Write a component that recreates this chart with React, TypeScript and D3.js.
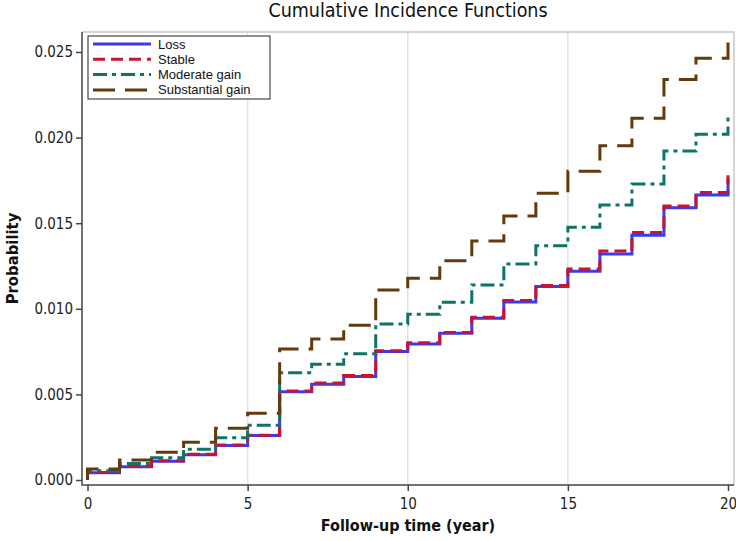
import * as d3 from 'd3';
import { useEffect, useRef } from 'react';

const YEARS = d3.range(0, 21);

const LOSS = [0.00042, 0.00077, 0.0011, 0.00148, 0.00202, 0.0026, 0.00515, 0.0056, 0.00605, 0.0075, 0.00795,
  0.00857, 0.00945, 0.0104, 0.0113, 0.0122, 0.0132, 0.0143, 0.0159, 0.01665, 0.0176];
const STABLE = [0.00044, 0.00079, 0.00112, 0.0015, 0.00205, 0.00262, 0.0052, 0.00567, 0.0061, 0.00755, 0.00802,
  0.00862, 0.0095, 0.01048, 0.01136, 0.01232, 0.01338, 0.01445, 0.016, 0.0168, 0.0178];
const MODERATE = [0.00054, 0.00097, 0.0013, 0.00179, 0.00247, 0.0032, 0.00627, 0.00676, 0.00738, 0.00911, 0.00968,
  0.01038, 0.01139, 0.01262, 0.01369, 0.01476, 0.01606, 0.01729, 0.01922, 0.02019, 0.02125];
const SUBSTANTIAL = [0.00064, 0.00117, 0.00162, 0.0022, 0.00302, 0.0039, 0.00765, 0.00824, 0.00904, 0.0111, 0.01178,
  0.0128, 0.01396, 0.01542, 0.01675, 0.01804, 0.01953, 0.02113, 0.0234, 0.02463, 0.0261];

const X_TICKS = [0, 5, 10, 15, 20];
const Y_TICKS = [0, 0.005, 0.01, 0.015, 0.02, 0.025];

const SERIES = [
  { name: 'Loss', values: LOSS, color: '#3a3af2', dash: null },
  { name: 'Stable', values: STABLE, color: '#c8142e', dash: '12 6' },
  { name: 'Moderate gain', values: MODERATE, color: '#0f7468', dash: '14 5 4 5' },
  { name: 'Substantial gain', values: SUBSTANTIAL, color: '#623b0d', dash: '22 10' }
];

const FONT = "'Liberation Sans', Arial, sans-serif";
const NARROW = "'DejaVu Sans Condensed', 'DejaVu Sans', sans-serif";
const WIDTH = 736;
const HEIGHT = 541;

function App() {
  const svgRef = useRef<SVGSVGElement>(null);

  useEffect(() => {
    if (!svgRef.current) { return; }
    const svg = d3.select(svgRef.current);
    svg.selectAll('*').remove();

    const frame = { left: 82, right: 734, top: 32, bottom: 485 };

    const x = d3.scaleLinear().domain([0, 20]).range([87.5, 728]);
    const y = d3.scaleLinear().domain([0, 0.025]).range([480, 52]);

    svg.append('rect')
      .attr('width', WIDTH)
      .attr('height', HEIGHT)
      .attr('fill', '#fff');

    // vertical grid
    svg.append('g')
      .selectAll('line')
      .data(X_TICKS.slice(1, -1))
      .join('line')
      .attr('x1', d => x(d))
      .attr('x2', d => x(d))
      .attr('y1', frame.top)
      .attr('y2', frame.bottom)
      .attr('stroke', '#e2e2e2')
      .attr('stroke-width', 1.5);

    // frame top/right light
    svg.append('path')
      .attr('d', `M${frame.left},${frame.top}H${frame.right}V${frame.bottom}`)
      .attr('fill', 'none')
      .attr('stroke', '#c8c8c8')
      .attr('stroke-width', 1.5);

    // step curves
    const line = d3.line<[number, number]>()
      .x(d => x(d[0]))
      .y(d => y(d[1]))
      .curve(d3.curveStepAfter);

    SERIES.forEach(s => {
      const pts: [number, number][] = [[0, 0], ...YEARS.map((t, i) => [t, s.values[i]] as [number, number])];
      svg.append('path')
        .attr('d', line(pts) || '')
        .attr('fill', 'none')
        .attr('stroke', s.color)
        .attr('stroke-width', 3)
        .attr('stroke-dasharray', s.dash)
        .attr('stroke-linejoin', 'miter');
    });

    // axes
    const xAxis = svg.append('g')
      .attr('transform', `translate(0,${frame.bottom})`)
      .call(d3.axisBottom(x).tickValues(X_TICKS).tickSize(6).tickSizeOuter(0));
    xAxis.select('.domain').remove();
    xAxis.selectAll('line').attr('stroke', '#444').attr('stroke-width', 1.5);
    xAxis.selectAll('text')
      .attr('font-family', NARROW)
      .attr('font-size', 15)
      .attr('fill', '#222')
      .attr('dy', '1em');

    const yAxis = svg.append('g')
      .attr('transform', `translate(${frame.left},0)`)
      .call(d3.axisLeft(y).tickValues(Y_TICKS).tickFormat(d3.format('.3f')).tickSize(6).tickSizeOuter(0));
    yAxis.select('.domain').remove();
    yAxis.selectAll('line').attr('stroke', '#444').attr('stroke-width', 1.5);
    yAxis.selectAll('text')
      .attr('font-family', NARROW)
      .attr('font-size', 15)
      .attr('fill', '#222');

    svg.append('path')
      .attr('d', `M${frame.left},${frame.top}V${frame.bottom}H${frame.right}`)
      .attr('fill', 'none')
      .attr('stroke', '#444')
      .attr('stroke-width', 1.5);

    // legend
    const legend = svg.append('g');
    legend.append('rect')
      .attr('x', 88)
      .attr('y', 36)
      .attr('width', 182)
      .attr('height', 63)
      .attr('fill', '#fff')
      .attr('stroke', '#222')
      .attr('stroke-width', 1);
    SERIES.forEach((s, i) => {
      const ly = 44 + i * 15.3;
      legend.append('line')
        .attr('x1', 93)
        .attr('x2', 151)
        .attr('y1', ly)
        .attr('y2', ly)
        .attr('stroke', s.color)
        .attr('stroke-width', 3)
        .attr('stroke-dasharray', s.dash);
      legend.append('text')
        .attr('x', 158)
        .attr('y', ly + 4.5)
        .attr('font-family', FONT)
        .attr('font-size', 13)
        .attr('fill', '#111')
        .text(s.name);
    });

    // titles
    svg.append('text')
      .attr('x', (frame.left + frame.right) / 2)
      .attr('y', 17)
      .attr('text-anchor', 'middle')
      .attr('font-family', NARROW)
      .attr('font-size', 19.5)
      .attr('fill', '#111')
      .text('Cumulative Incidence Functions');

    svg.append('text')
      .attr('x', (frame.left + frame.right) / 2)
      .attr('y', 531)
      .attr('text-anchor', 'middle')
      .attr('font-family', NARROW)
      .attr('font-size', 16)
      .attr('font-weight', 'bold')
      .attr('fill', '#111')
      .text('Follow-up time (year)');

    svg.append('text')
      .attr('transform', `translate(18,${(frame.top + frame.bottom) / 2}) rotate(-90)`)
      .attr('text-anchor', 'middle')
      .attr('font-family', NARROW)
      .attr('font-size', 16.5)
      .attr('font-weight', 'bold')
      .attr('fill', '#111')
      .text('Probability');
  }, []);

  return (
    <svg
      ref={svgRef}
      width={WIDTH}
      height={HEIGHT}
      style={{ position: 'absolute', left: 0, top: 0, display: 'block' }}
    />
  );
}

export default App;
